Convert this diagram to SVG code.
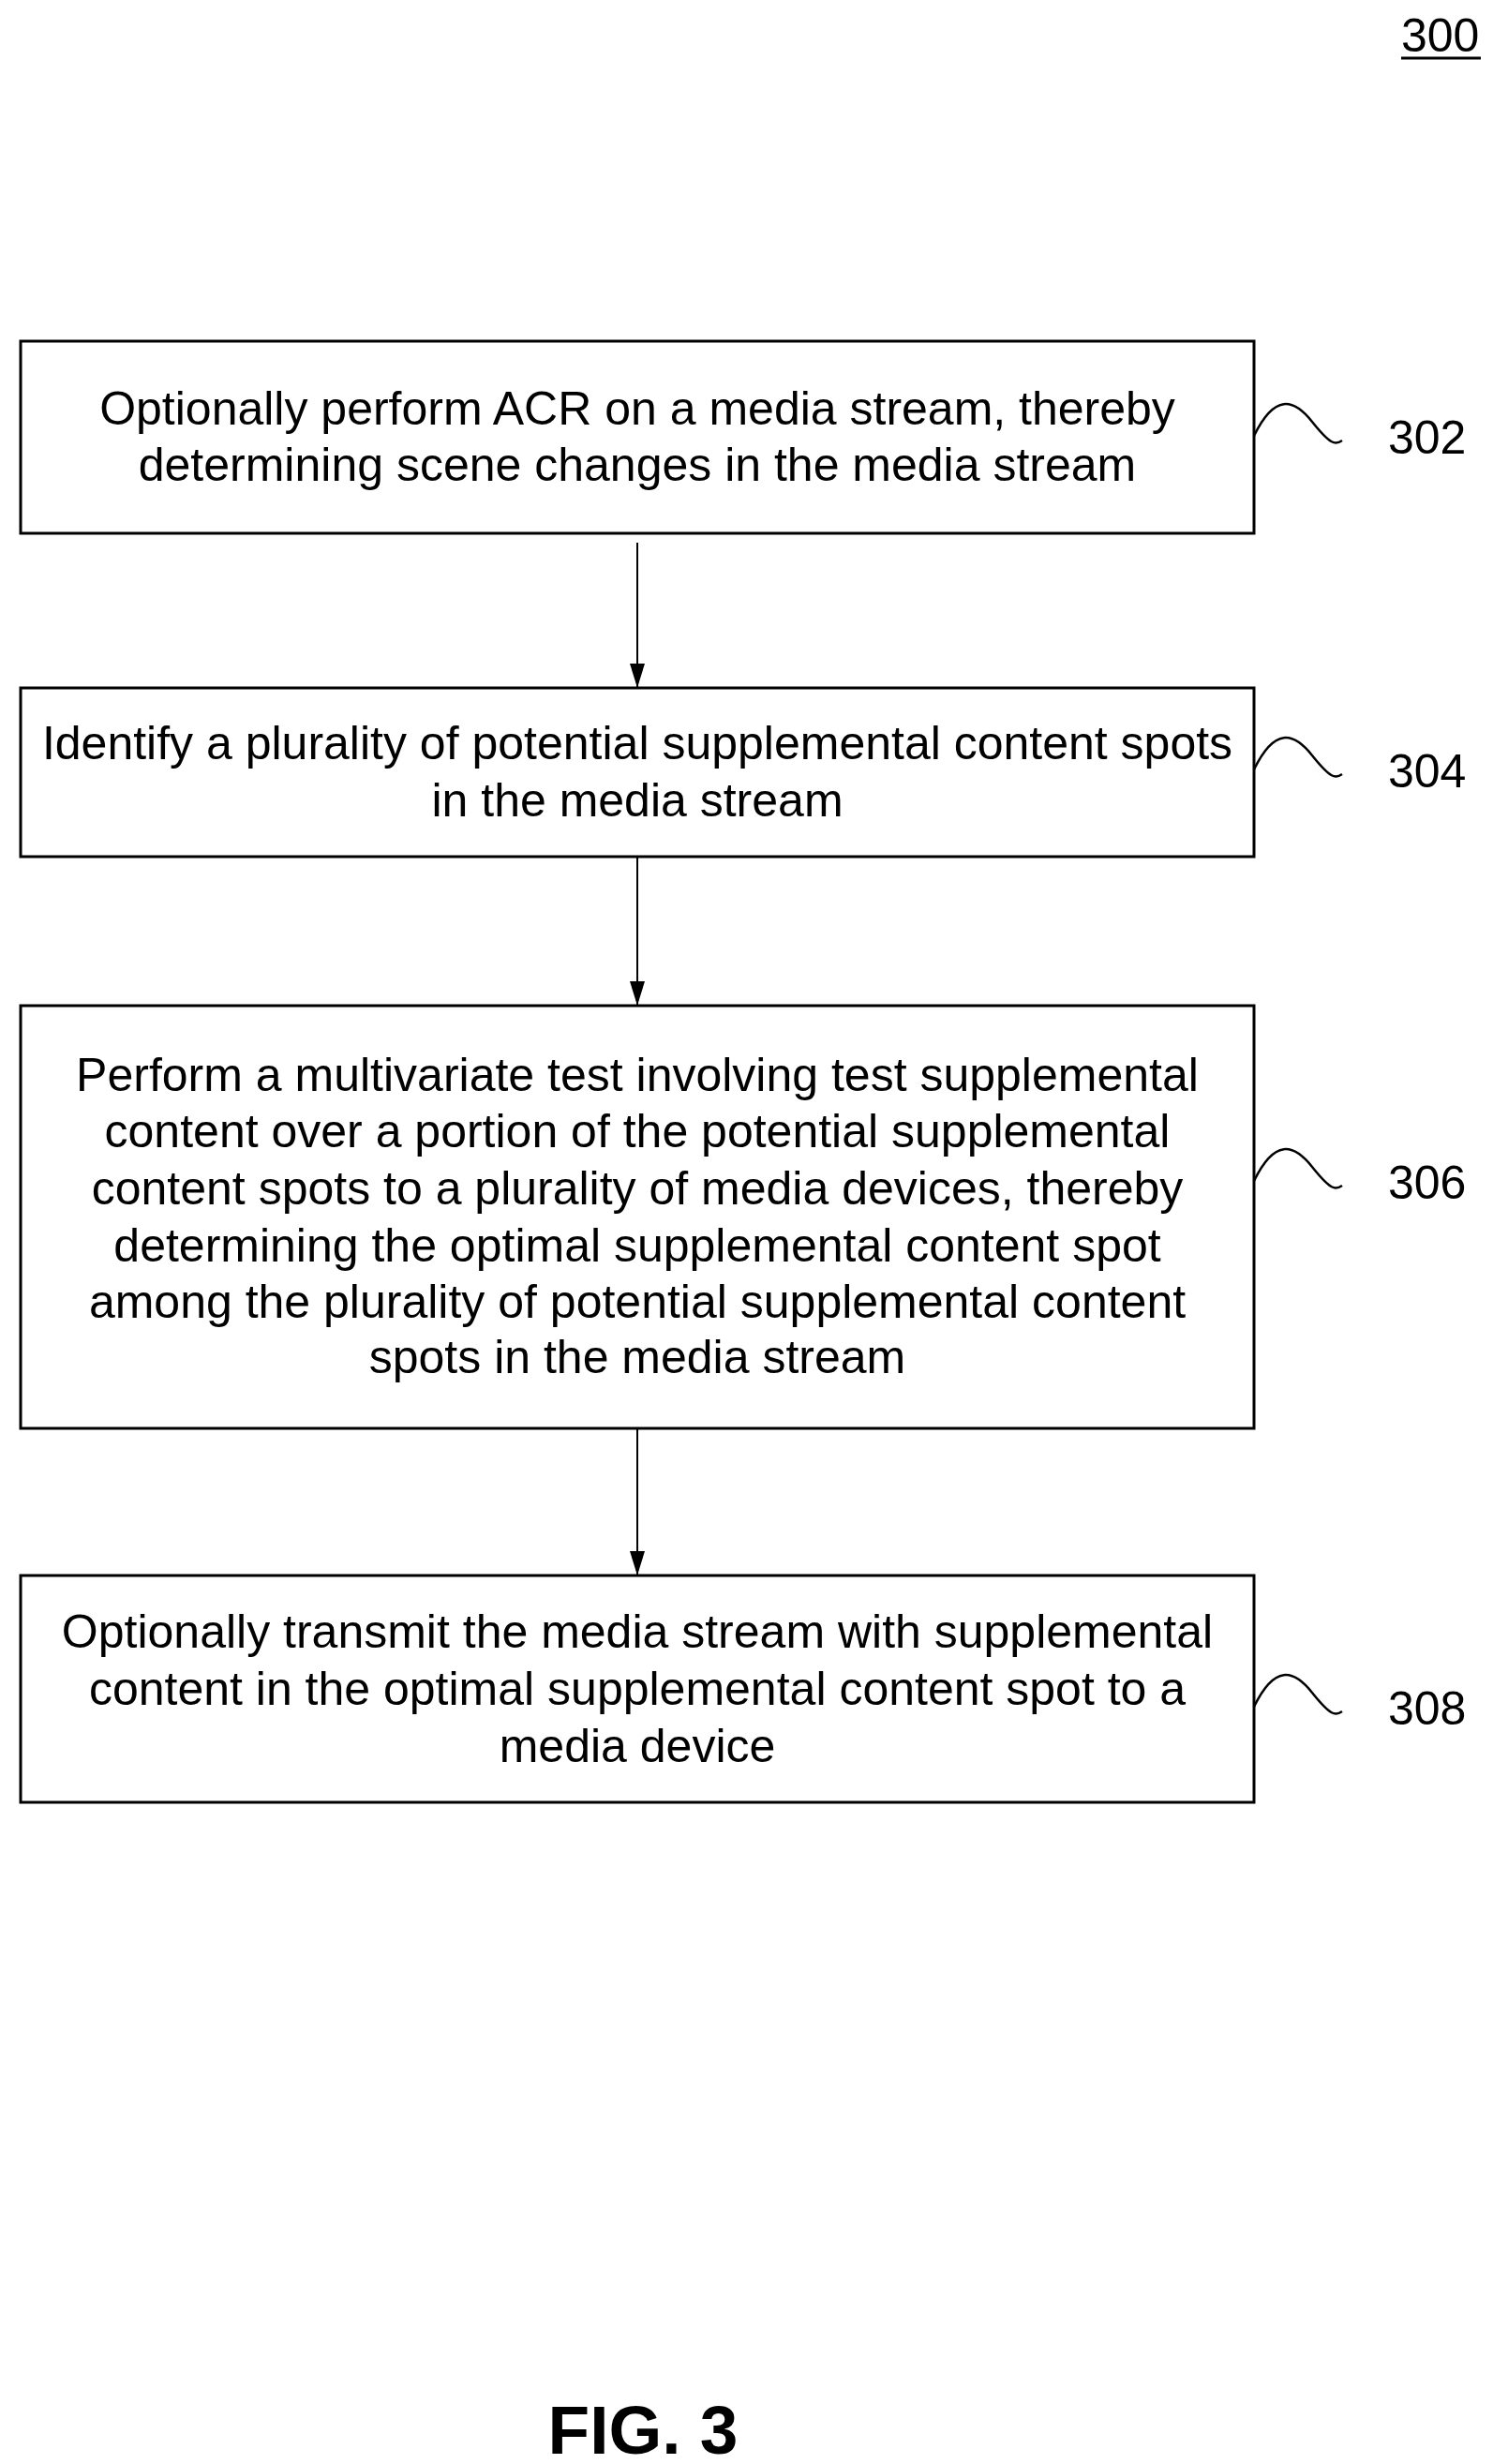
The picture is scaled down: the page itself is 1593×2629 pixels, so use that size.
<svg xmlns="http://www.w3.org/2000/svg" width="1593" height="2629" viewBox="0 0 1593 2629">
<defs>
<style>
rect{fill:#fff;stroke:#000;stroke-width:3}
text{font-family:"Liberation Sans",Arial,sans-serif;font-size:50px;fill:#000}
.c{text-anchor:middle}
.w{fill:none;stroke:#000;stroke-width:2.5}
.a{stroke:#000;stroke-width:2}
</style>
<marker id="ah" viewBox="0 0 10 10" refX="10" refY="5" markerWidth="26" markerHeight="16" markerUnits="userSpaceOnUse" orient="auto" preserveAspectRatio="none"><path d="M0,0 L10,5 L0,10 z" fill="#000"/></marker>
</defs>
<rect width="1593" height="2629" fill="#fff" style="stroke:none"/>
<text x="1495" y="55">300</text>
<line x1="1495" y1="62" x2="1580" y2="62" stroke="#000" stroke-width="3"/>
<g id="connectors">
<line class="a" x1="680" y1="579" x2="680" y2="734" marker-end="url(#ah)"/>
<line class="a" x1="680" y1="914" x2="680" y2="1073" marker-end="url(#ah)"/>
<line class="a" x1="680" y1="1524" x2="680" y2="1681" marker-end="url(#ah)"/>
</g>
<g id="n302">
<rect x="22" y="364" width="1316" height="205"/>
<text class="c" x="680" y="453">Optionally perform ACR on a media stream, thereby</text>
<text class="c" x="680" y="513">determining scene changes in the media stream</text>
<path class="w" d="M1338,465 C1360,420 1380,425 1400,450 S1425,475 1432,470"/>
<text x="1481" y="484">302</text>
</g>
<g id="n304">
<rect x="22" y="734" width="1316" height="180"/>
<text class="c" x="680" y="810">Identify a plurality of potential supplemental content spots</text>
<text class="c" x="680" y="871">in the media stream</text>
<path class="w" d="M1338,821 C1360,776 1380,781 1400,806 S1425,831 1432,826"/>
<text x="1481" y="840">304</text>
</g>
<g id="n306">
<rect x="22" y="1073" width="1316" height="451"/>
<text class="c" x="680" y="1164">Perform a multivariate test involving test supplemental</text>
<text class="c" x="680" y="1224">content over a portion of the potential supplemental</text>
<text class="c" x="680" y="1285">content spots to a plurality of media devices, thereby</text>
<text class="c" x="680" y="1346">determining the optimal supplemental content spot</text>
<text class="c" x="680" y="1406">among the plurality of potential supplemental content</text>
<text class="c" x="680" y="1465">spots in the media stream</text>
<path class="w" d="M1338,1260 C1360,1215 1380,1220 1400,1245 S1425,1270 1432,1265"/>
<text x="1481" y="1279">306</text>
</g>
<g id="n308">
<rect x="22" y="1681" width="1316" height="242"/>
<text class="c" x="680" y="1758">Optionally transmit the media stream with supplemental</text>
<text class="c" x="680" y="1819">content in the optimal supplemental content spot to a</text>
<text class="c" x="680" y="1880">media device</text>
<path class="w" d="M1338,1821 C1360,1776 1380,1781 1400,1806 S1425,1831 1432,1826"/>
<text x="1481" y="1840">308</text>
</g>
<text class="c" x="686" y="2618" style="font-size:73px;font-weight:bold">FIG. 3</text>
</svg>
